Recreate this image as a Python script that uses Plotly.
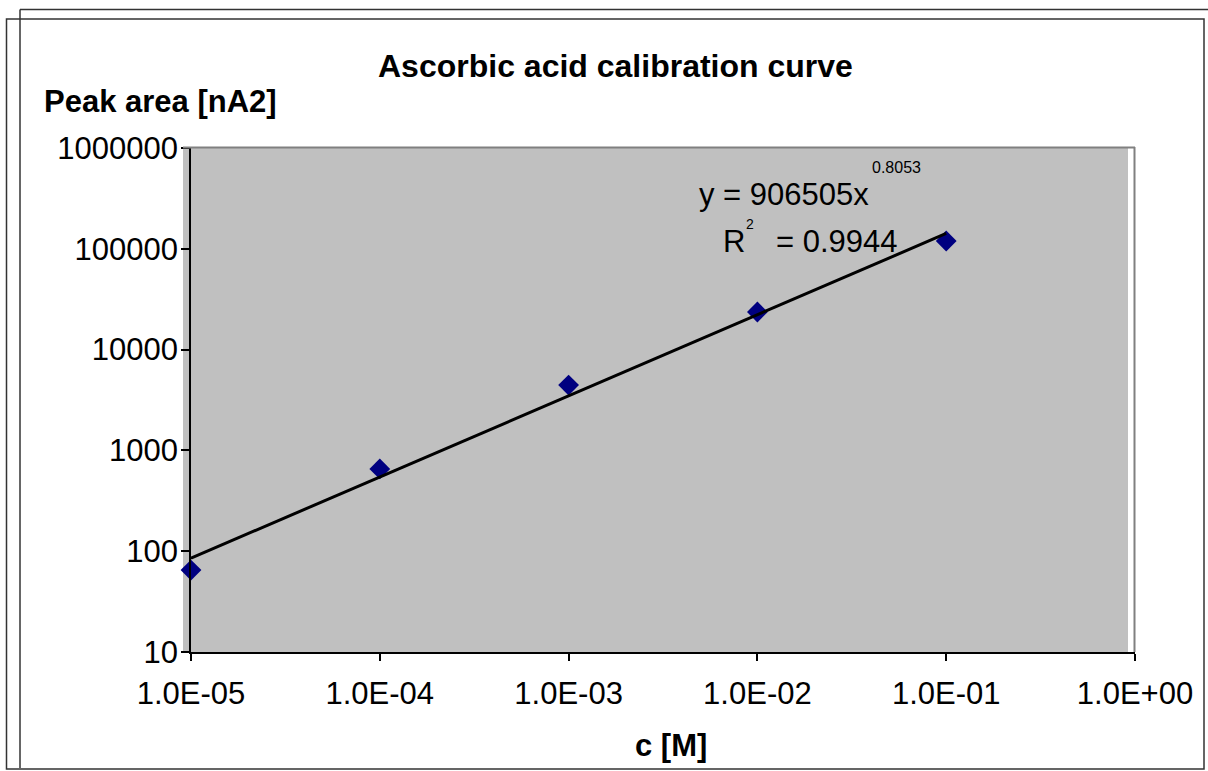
import plotly.graph_objects as go

# ---- data ----
conc = [1e-5, 1e-4, 1e-3, 1e-2, 1e-1]
peak_area = [65, 655, 4450, 23600, 119500]
trend_x = [1e-5, 1e-1]
trend_y = [85.3, 141900]
x_tickvals = [1e-5, 1e-4, 1e-3, 1e-2, 1e-1, 1e0]
x_ticktext = ["1.0E-05", "1.0E-04", "1.0E-03", "1.0E-02", "1.0E-01", "1.0E+00"]
y_tickvals = [10, 100, 1000, 10000, 100000, 1000000]
y_ticktext = ["10", "100", "1000", "10000", "100000", "1000000"]

W, H = 1208, 771
L, R, T, B = 191, 73, 148, 119
PW, PH = W - L - R, H - T - B
FONT = "Liberation Sans, Arial, sans-serif"


def px(x):
    return (x - L) / PW


def py(y):
    return (H - B - y) / PH


fig = go.Figure()
fig.add_trace(go.Scatter(
    x=conc, y=peak_area, mode="markers", cliponaxis=False,
    marker=dict(symbol="diamond", size=16, color="#000080", line=dict(width=0)),
    hoverinfo="x+y"))
fig.add_trace(go.Scatter(
    x=trend_x, y=trend_y, mode="lines", cliponaxis=False,
    line=dict(color="black", width=3), hoverinfo="skip"))

shapes = [
    dict(type="rect", xref="paper", yref="paper", x0=px(183), x1=px(1128), y0=py(653), y1=py(147.5),
         fillcolor="#c0c0c0", line=dict(width=0), layer="below"),
    dict(type="line", xref="paper", yref="paper", x0=px(183), x1=px(1135), y0=py(147.5), y1=py(147.5),
         line=dict(color="#808080", width=2)),
    dict(type="line", xref="paper", yref="paper", x0=px(1134.5), x1=px(1134.5), y0=py(147), y1=py(652),
         line=dict(color="#808080", width=2)),
    dict(type="rect", xref="paper", yref="paper", x0=px(6.5), x1=px(1204), y0=py(769), y1=py(19),
         line=dict(color="#333333", width=1.5)),
    dict(type="line", xref="paper", yref="paper", x0=px(20), x1=px(20), y0=py(768), y1=py(9.5),
         line=dict(color="#333333", width=1.5)),
    dict(type="line", xref="paper", yref="paper", x0=px(20), x1=px(1210), y0=py(9.5), y1=py(9.5),
         line=dict(color="#333333", width=1.5)),
]

ann = [
    dict(text="<b>Ascorbic acid calibration curve</b>", x=px(615), y=py(66), size=32),
    dict(text="<b>Peak area [nA2]</b>", x=px(160.5), y=py(101), size=31),
    dict(text="<b>c [M]</b>", x=px(671), y=py(745), size=31),
    dict(text="y = 906505x", x=px(697), y=py(194), size=31, xanchor="left"),
    dict(text="0.8053", x=px(870), y=py(167), size=16, xanchor="left"),
    dict(text="R", x=px(721), y=py(241), size=31, xanchor="left"),
    dict(text="2", x=px(744), y=py(224), size=14, xanchor="left"),
    dict(text="= 0.9944", x=px(774), y=py(241), size=31, xanchor="left"),
]
annotations = []
for a in ann:
    annotations.append(dict(
        text=a["text"], x=a["x"], y=a["y"], xref="paper", yref="paper",
        xanchor=a.get("xanchor", "center"), yanchor="middle", showarrow=False,
        font=dict(family=FONT, size=a["size"], color="black")))

fig.update_layout(
    width=W, height=H, margin=dict(l=L, r=R, t=T, b=B, pad=0),
    paper_bgcolor="white", plot_bgcolor="rgba(0,0,0,0)",
    showlegend=False, shapes=shapes, annotations=annotations,
    font=dict(family=FONT, size=31, color="black"),
)
fig.update_xaxes(
    type="log", range=[-5, 0], tickvals=x_tickvals, ticktext=x_ticktext,
    showgrid=False, zeroline=False, showline=True, linecolor="black", linewidth=1.5,
    ticks="outside", ticklen=7, tickwidth=1.5, tickcolor="black", ticklabelstandoff=6,
    tickfont=dict(family=FONT, size=31, color="black"))
fig.update_yaxes(
    type="log", range=[1, 6], tickvals=y_tickvals, ticktext=y_ticktext,
    showgrid=False, zeroline=False, showline=True, linecolor="black", linewidth=1.5,
    ticks="outside", ticklen=8, tickwidth=1.5, tickcolor="black", ticklabelstandoff=-3,
    tickfont=dict(family=FONT, size=31, color="black"))

fig.write_html("out.html", config={"displayModeBar": False},
               post_script="document.body.style.margin='0';document.body.style.overflow='hidden';")
